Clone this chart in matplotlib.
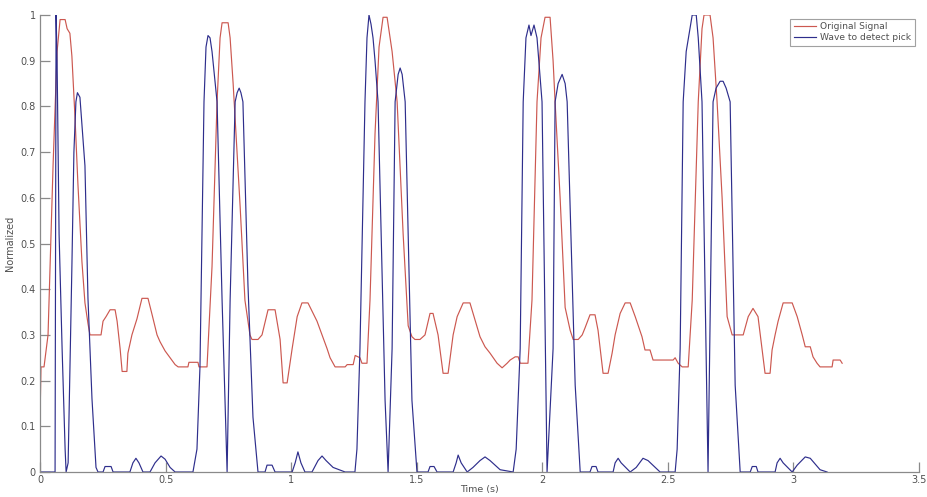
import matplotlib
matplotlib.use("Agg")
import matplotlib.pyplot as plt

# Original (stepped) signal, normalized
orig_t = [0.000, 0.004, 0.016, 0.032, 0.040, 0.052, 0.068, 0.080, 0.100, 0.108,
          0.119, 0.127, 0.139, 0.151, 0.167, 0.179, 0.191, 0.199, 0.243, 0.251,
          0.263, 0.279, 0.299, 0.307, 0.319, 0.327, 0.346, 0.350, 0.366, 0.386,
          0.406, 0.430, 0.446, 0.466, 0.478, 0.498, 0.518, 0.538, 0.550, 0.589,
          0.593, 0.629, 0.633, 0.665, 0.685, 0.705, 0.717, 0.725, 0.749, 0.757,
          0.769, 0.797, 0.816, 0.836, 0.844, 0.868, 0.884, 0.908, 0.936, 0.956,
          0.968, 0.984, 1.004, 1.024, 1.043, 1.067, 1.103, 1.143, 1.155, 1.175,
          1.215, 1.223, 1.247, 1.255, 1.274, 1.282, 1.302, 1.314, 1.334, 1.350,
          1.366, 1.382, 1.402, 1.422, 1.446, 1.466, 1.481, 1.493, 1.513, 1.533,
          1.553, 1.565, 1.585, 1.605, 1.625, 1.645, 1.661, 1.685, 1.712, 1.732,
          1.752, 1.772, 1.792, 1.820, 1.840, 1.860, 1.872, 1.892, 1.904, 1.912,
          1.943, 1.959, 1.979, 1.995, 2.011, 2.031, 2.043, 2.051, 2.071, 2.091,
          2.111, 2.123, 2.143, 2.159, 2.170, 2.190, 2.210, 2.222, 2.242, 2.262,
          2.278, 2.290, 2.310, 2.330, 2.350, 2.370, 2.397, 2.409, 2.429, 2.441,
          2.521, 2.529, 2.541, 2.557, 2.581, 2.597, 2.621, 2.636, 2.644, 2.668,
          2.680, 2.696, 2.716, 2.736, 2.756, 2.800, 2.820, 2.839, 2.859, 2.875,
          2.887, 2.907, 2.915, 2.927, 2.939, 2.959, 2.995, 3.015, 3.035, 3.047,
          3.067, 3.078, 3.094, 3.106, 3.154, 3.158, 3.186, 3.194]
orig_v = [0.114, 0.23, 0.23, 0.30, 0.45, 0.67, 0.92, 0.99, 0.99, 0.97,
          0.96, 0.91, 0.78, 0.63, 0.46, 0.37, 0.325, 0.30, 0.30, 0.33,
          0.34, 0.355, 0.355, 0.33, 0.27, 0.22, 0.22, 0.26, 0.30, 0.335,
          0.38, 0.38, 0.345, 0.30, 0.285, 0.265, 0.25, 0.235, 0.23, 0.23,
          0.24, 0.24, 0.23, 0.23, 0.45, 0.81, 0.95, 0.983, 0.983, 0.95,
          0.85, 0.58, 0.376, 0.30, 0.29, 0.29, 0.30, 0.355, 0.355, 0.29,
          0.195, 0.195, 0.27, 0.34, 0.37, 0.37, 0.33, 0.27, 0.25, 0.23,
          0.23, 0.235, 0.235, 0.255, 0.25, 0.238, 0.238, 0.376, 0.74, 0.93,
          0.995, 0.995, 0.92, 0.81, 0.52, 0.32, 0.296, 0.29, 0.29, 0.30,
          0.347, 0.347, 0.30, 0.216, 0.216, 0.30, 0.34, 0.37, 0.37, 0.333,
          0.296, 0.274, 0.26, 0.238, 0.228, 0.238, 0.245, 0.252, 0.252, 0.238,
          0.238, 0.376, 0.81, 0.95, 0.995, 0.995, 0.90, 0.81, 0.60, 0.36,
          0.31, 0.29, 0.29, 0.30, 0.315, 0.344, 0.344, 0.31, 0.216, 0.216,
          0.26, 0.30, 0.347, 0.37, 0.37, 0.34, 0.296, 0.267, 0.267, 0.245,
          0.245, 0.25, 0.238, 0.23, 0.23, 0.376, 0.81, 0.97, 1.0, 1.0,
          0.95, 0.81, 0.60, 0.34, 0.30, 0.30, 0.34, 0.358, 0.34, 0.27,
          0.216, 0.216, 0.267, 0.30, 0.33, 0.37, 0.37, 0.34, 0.30, 0.274,
          0.274, 0.252, 0.238, 0.23, 0.23, 0.245, 0.245, 0.238]

# Detection wave, normalized
wave_t = [0.000, 0.060, 0.064, 0.068, 0.076, 0.088, 0.100, 0.104, 0.112, 0.127,
          0.135, 0.143, 0.149, 0.159, 0.167, 0.179, 0.191, 0.207, 0.223, 0.231,
          0.251, 0.259, 0.283, 0.291, 0.358, 0.370, 0.382, 0.394, 0.410, 0.438,
          0.458, 0.482, 0.498, 0.518, 0.538, 0.609, 0.625, 0.637, 0.653, 0.661,
          0.669, 0.677, 0.685, 0.705, 0.725, 0.745, 0.757, 0.777, 0.785, 0.793,
          0.800, 0.808, 0.828, 0.848, 0.868, 0.896, 0.904, 0.924, 0.936, 1.004,
          1.016, 1.027, 1.039, 1.055, 1.083, 1.107, 1.123, 1.139, 1.167, 1.215,
          1.254, 1.262, 1.274, 1.294, 1.302, 1.310, 1.318, 1.326, 1.334, 1.346,
          1.374, 1.386, 1.402, 1.414, 1.426, 1.434, 1.442, 1.454, 1.481, 1.501,
          1.545, 1.553, 1.569, 1.581, 1.645, 1.657, 1.665, 1.677, 1.701, 1.724,
          1.752, 1.772, 1.792, 1.832, 1.884, 1.896, 1.912, 1.924, 1.935, 1.947,
          1.955, 1.967, 1.979, 1.999, 2.019, 2.043, 2.051, 2.063, 2.079, 2.091,
          2.099, 2.131, 2.151, 2.190, 2.198, 2.214, 2.222, 2.282, 2.290, 2.302,
          2.314, 2.350, 2.374, 2.401, 2.421, 2.469, 2.529, 2.537, 2.549, 2.561,
          2.573, 2.585, 2.597, 2.613, 2.621, 2.636, 2.660, 2.680, 2.692, 2.708,
          2.720, 2.732, 2.748, 2.768, 2.788, 2.828, 2.836, 2.852, 2.859, 2.927,
          2.935, 2.947, 2.959, 2.995, 3.015, 3.047, 3.067, 3.106, 3.134]
wave_v = [0.0, 0.0, 1.0, 0.90, 0.52, 0.27, 0.05, 0.0, 0.02, 0.45,
          0.70, 0.81, 0.83, 0.82, 0.76, 0.67, 0.38, 0.16, 0.01, 0.0,
          0.0, 0.012, 0.012, 0.0, 0.0, 0.02, 0.03, 0.02, 0.0, 0.0,
          0.02, 0.035, 0.028, 0.01, 0.0, 0.0, 0.05, 0.23, 0.81, 0.93,
          0.955, 0.95, 0.92, 0.81, 0.376, 0.0, 0.376, 0.81, 0.83, 0.84,
          0.83, 0.81, 0.41, 0.12, 0.0, 0.0, 0.015, 0.015, 0.0, 0.0,
          0.02, 0.044, 0.02, 0.0, 0.0, 0.025, 0.035, 0.025, 0.01, 0.0,
          0.0, 0.05, 0.27, 0.81, 0.95, 1.0, 0.98, 0.95, 0.90, 0.81,
          0.157, 0.0, 0.27, 0.81, 0.87, 0.884, 0.87, 0.81, 0.157, 0.0,
          0.0, 0.012, 0.012, 0.0, 0.0, 0.02, 0.037, 0.02, 0.0, 0.01,
          0.025, 0.033, 0.025, 0.005, 0.0, 0.05, 0.27, 0.81, 0.95, 0.978,
          0.955, 0.978, 0.95, 0.81, 0.0, 0.27, 0.81, 0.85, 0.87, 0.85,
          0.81, 0.19, 0.0, 0.0, 0.012, 0.012, 0.0, 0.0, 0.02, 0.03,
          0.02, 0.0, 0.01, 0.03, 0.025, 0.0, 0.0, 0.05, 0.27, 0.81,
          0.92, 0.96, 1.0, 1.0, 0.95, 0.81, 0.0, 0.81, 0.84, 0.855,
          0.855, 0.84, 0.81, 0.19, 0.0, 0.0, 0.012, 0.012, 0.0, 0.0,
          0.02, 0.03, 0.02, 0.0, 0.015, 0.033, 0.03, 0.005, 0.0]

x_ticks = [0, 0.5, 1, 1.5, 2, 2.5, 3, 3.5]
x_tick_labels = ["0", "0.5", "1", "1.5", "2", "2.5", "3", "3.5"]
y_ticks = [0, 0.1, 0.2, 0.3, 0.4, 0.5, 0.6, 0.7, 0.8, 0.9, 1]
y_tick_labels = ["0", "0.1", "0.2", "0.3", "0.4", "0.5", "0.6", "0.7", "0.8", "0.9", "1"]

axis_grey = "#8a8a8a"
text_grey = "#505050"

fig = plt.figure(figsize=(9.27, 4.97), dpi=100)
ax = fig.add_axes([40 / 927, 1 - 472 / 497, 879 / 927, 457 / 497])

ax.plot(orig_t, orig_v, color="#cc5850", lw=0.85, label="Original Signal")
ax.plot(wave_t, wave_v, color="#2e2e8c", lw=0.85, label="Wave to detect pick")

ax.set_xlim(0, 3.5)
ax.set_ylim(0, 1)
ax.set_xticks(x_ticks)
ax.set_xticklabels(x_tick_labels)
ax.set_yticks(y_ticks)
ax.set_yticklabels(y_tick_labels)

for side in ("top", "right"):
    ax.spines[side].set_visible(False)
for side in ("left", "bottom"):
    ax.spines[side].set_color(axis_grey)
    ax.spines[side].set_linewidth(0.9)

ax.tick_params(direction="in", length=7, width=0.9, colors=axis_grey,
               labelcolor=text_grey, labelsize=7)
ax.tick_params(axis="x", pad=2)
ax.tick_params(axis="y", pad=3)

ax.set_xlabel("Time (s)", fontsize=6.8, color=text_grey, labelpad=0)
ax.xaxis.set_label_coords(0.5, -0.029)
ax.set_ylabel("Normalized", fontsize=7, color=text_grey, labelpad=4)

leg = ax.legend(loc="upper right", bbox_to_anchor=(995 / 1000, 1 - 4 / 457),
                fontsize=6.6, frameon=True, fancybox=False, handlelength=2.4,
                borderpad=0.35, labelspacing=0.25, handletextpad=0.5,
                borderaxespad=0.0)
leg.get_frame().set_edgecolor(axis_grey)
leg.get_frame().set_linewidth(0.8)
for txt in leg.get_texts():
    txt.set_color(text_grey)

fig.savefig("out.png", dpi=100)
